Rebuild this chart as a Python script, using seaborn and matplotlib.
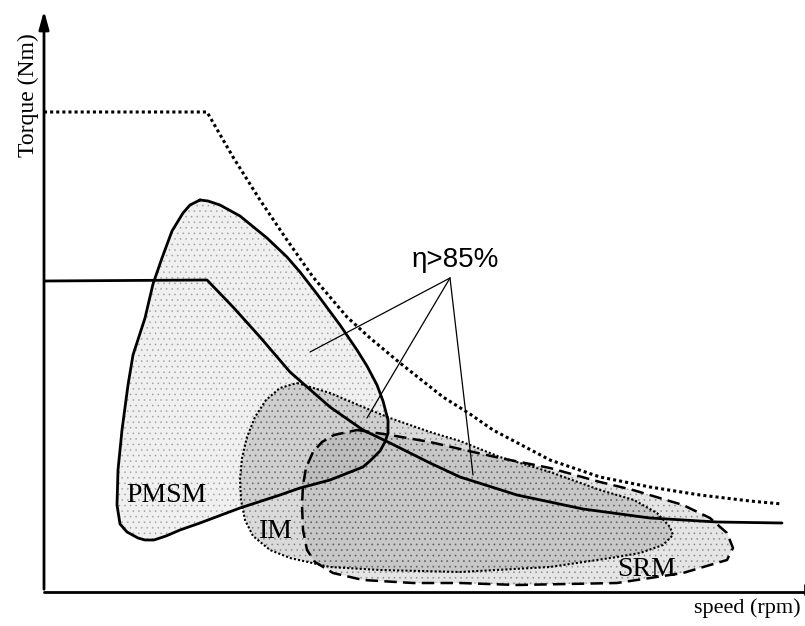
import numpy as np
import pandas as pd
import matplotlib; matplotlib.use("Agg")
import matplotlib.pyplot as plt
import seaborn as sns

# values (speed / torque in picture units, origin at axes corner)
X0, Y0 = 44, 592

env_dot_x = [0, 163, 189, 216, 243, 269, 303, 326, 356, 399, 426, 449, 506, 556, 606, 656, 706, 738]
env_dot_y = [112, 112, 157, 200, 240, 277, 317, 338, 363, 397, 414, 430, 460, 477, 487, 495, 501, 504]

env_sol_x = [0, 163, 189, 216, 246, 286, 319, 346, 386, 416, 473, 539, 606, 673, 738]
env_sol_y = [281, 280, 307, 337, 372, 407, 430, 443, 463, 477, 495, 509, 518, 522, 523]

pmsm_x = [156, 164, 176, 196, 223, 243, 256, 273, 296, 313, 323, 333, 339, 344, 344, 341, 336, 327,
          319, 286, 256, 236, 196, 156, 136, 122, 110, 101, 94, 83, 76, 73, 74, 78, 84, 89, 101, 109,
          118, 128, 139, 146, 156]
pmsm_y = [200, 201, 205, 216, 238, 257, 272, 294, 325, 350, 366, 385, 401, 420, 433, 442, 451, 460,
          467, 480, 488, 495, 508, 523, 530, 536, 540, 540, 538, 532, 524, 505, 470, 430, 385, 355,
          318, 284, 258, 231, 213, 205, 200]

im_x = [253, 286, 319, 346, 386, 416, 456, 506, 556, 590, 613, 626, 629, 619, 596, 573, 506, 416,
        336, 286, 246, 226, 209, 201, 197, 196, 198, 203, 211, 222, 236, 253]
im_y = [383, 393, 407, 418, 432, 441, 457, 472, 490, 500, 513, 527, 535, 545, 553, 557, 567, 572,
        570, 567, 558, 550, 536, 520, 500, 480, 458, 437, 417, 400, 388, 383]

srm_x = [313, 346, 386, 416, 456, 506, 556, 589, 639, 666, 683, 689, 683, 639, 573, 473, 416,
         369, 319, 289, 271, 263, 259, 258, 259, 262, 269, 278, 290, 313]
srm_y = [430, 435, 442, 449, 458, 468, 482, 490, 505, 518, 533, 548, 560, 573, 583, 585, 583,
         583, 580, 573, 562, 550, 530, 505, 485, 468, 452, 442, 435, 430]

eta_tip = (406, 278)
eta_ends_x = [266, 323, 429]
eta_ends_y = [352, 418, 475]

region_labels = ["PMSM", "IM", "SRM"]
region_lab_x = [122, 232, 602]
region_lab_y = [495, 532, 570]


def tq(py):
    return [Y0 - v for v in py]


sns.set_theme(style="white")
plt.rcParams["font.family"] = ["Liberation Serif", "DejaVu Serif"]
plt.rcParams["hatch.linewidth"] = 0.5
plt.rcParams["text.color"] = "black"

fig = plt.figure(figsize=(8.05, 6.26), dpi=100)
ax = fig.add_axes([X0 / 805, (626 - Y0) / 626, (805 - X0) / 805, (Y0 - 8) / 626])
ax.set_xlim(0, 805 - X0)
ax.set_ylim(0, Y0 - 8)
for s in ax.spines.values():
    s.set_visible(False)
ax.set_xticks([]); ax.set_yticks([])

# efficiency regions (stippled grey)
fills = [(pmsm_x, pmsm_y, 0.10, 0.35), (im_x, im_y, 0.26, 0.45), (srm_x, srm_y, 0.18, 0.45)]
for fx, fy, a, ha in fills:
    ax.fill(fx, tq(fy), color="0.45", alpha=a, lw=0, zorder=1)
    ax.fill(fx, tq(fy), facecolor="none", edgecolor="0.3", hatch="...", lw=0, alpha=ha, zorder=1)

df = lambda x, y: pd.DataFrame({"speed": x, "torque": tq(y)})
kw = dict(x="speed", y="torque", sort=False, estimator=None, ax=ax, color="black", legend=False)
sns.lineplot(data=df(env_dot_x, env_dot_y), lw=2.2, linestyle=(0, (1, 1)), **kw)
sns.lineplot(data=df(env_sol_x, env_sol_y), lw=2.0, **kw)
sns.lineplot(data=df(pmsm_x, pmsm_y), lw=2.0, **kw)
sns.lineplot(data=df(im_x, im_y), lw=1.5, linestyle=(0, (1, 1)), **kw)
sns.lineplot(data=df(srm_x, srm_y), lw=1.8, linestyle=(0, (5, 2.5)), **kw)

# eta annotation
for ex, ey in zip(eta_ends_x, eta_ends_y):
    ax.plot([eta_tip[0], ex], tq([eta_tip[1], ey]), color="black", lw=0.9)
ax.text(eta_tip[0] + 5, Y0 - 260, "η>85%", fontsize=20, family=["Liberation Sans", "DejaVu Sans"],
        ha="center", va="center", color="black")

for lab, lx, ly in zip(region_labels, region_lab_x, region_lab_y):
    ax.text(lx, Y0 - ly, lab, fontsize=20, ha="center", va="center", zorder=5, color="black")

# axes with arrows
ax.annotate("", xy=(0, 1.0), xytext=(0, 0), xycoords="axes fraction",
            arrowprops=dict(arrowstyle="-|>,head_length=0.9,head_width=0.25", color="black", lw=2))
ax.plot([0, 1], [0, 0], transform=ax.transAxes, color="black", lw=2, clip_on=False)
ax.plot([1, 1], [-0.005, 0.012], transform=ax.transAxes, color="black", lw=1.2, clip_on=False)

fig.text(28 / 805, 1 - 95 / 626, "Torque (Nm)", rotation=90, fontsize=17, ha="center", va="center",
         color="black")
fig.text(747 / 805, 1 - 608 / 626, "speed (rpm)", fontsize=16, ha="center", va="center", color="black")

fig.savefig("out.png", dpi=100, facecolor="white")
